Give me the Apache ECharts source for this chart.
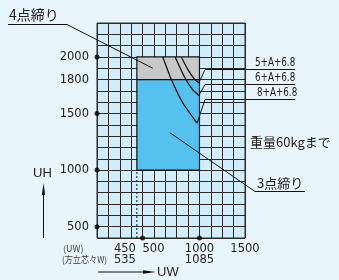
<!DOCTYPE html>
<html>
<head>
<meta charset="utf-8">
<script src="https://cdn.jsdelivr.net/npm/echarts@6/dist/echarts.min.js"></script>
<style>
  html, body { margin: 0; padding: 0; background: #e9f5fd; }
  #main { width: 339px; height: 280px; }
</style>
</head>
<body>
<div id="main"></div>
<script>
// size chart: UW x UH, with glass limits

var xMin = 100, xMax = 1400, yMin = 400, yMax = 2300;

var yTickValues = [500, 1000, 1500, 1800, 2000];
var yDotValues = [500, 1000, 1500, 2000];
var xDotValues = [500, 1000];

var xLabelValues = [450, 500, 1000, 1400];
var xLabelTop = ['450', '500', '1000', '1500'];
var xLabelBottom = ['535', '', '1085', ''];

// regions [x0, x1, y0, y1]
var box3 = [450, 1000, 1000, 1800];   // 3点締り
var box4 = [450, 1000, 1800, 2000];   // 4点締り

// glass limit curves
var curveNames = ['5+A+6.8', '6+A+6.8', '8+A+6.8'];
var curve5 = [[840, 2000], [901, 1884], [960, 1800], [995, 1772]];
var curve6 = [[786, 2000], [870, 1820], [940, 1710], [995, 1660]];
var curve8 = [[678, 2000], [755, 1796], [854, 1593], [960, 1442], [980, 1416]];

var dashed450 = [[450, 400], [450, 1000]];

var lineColor = '#2a2a2a';
var txt = '#222';
var jp = '"Noto Sans CJK JP", sans-serif';

var chart = echarts.init(document.getElementById('main'));

function curveSeries(name, data) {
  return {
    name: name,
    type: 'line',
    data: data,
    smooth: 0.2,
    symbol: 'none',
    z: 5,
    lineStyle: { color: '#111', width: 1.3 }
  };
}

var option = {
  animation: false,
  backgroundColor: '#e9f5fd',
  grid: {
    left: 97, top: 23, width: 148, height: 215,
    show: true,
    backgroundColor: '#d3ecfa',
    borderColor: lineColor,
    borderWidth: 1
  },
  xAxis: {
    type: 'value',
    min: xMin, max: xMax, interval: 100,
    axisLine: { show: false },
    axisTick: { show: false },
    axisLabel: { show: false },
    splitLine: { show: true, lineStyle: { color: lineColor, width: 1 } }
  },
  yAxis: {
    type: 'value',
    min: yMin, max: yMax, interval: 100,
    axisLine: { show: false },
    axisTick: { show: false },
    axisLabel: {
      margin: 8,
      color: txt,
      fontSize: 11.5,
      fontFamily: '"DejaVu Sans", sans-serif',
      formatter: function (v) {
        return yTickValues.indexOf(v) >= 0 ? String(v) : '';
      }
    },
    splitLine: { show: true, lineStyle: { color: lineColor, width: 1 } }
  },
  series: [
    {
      type: 'line',
      data: [],
      markArea: {
        silent: true,
        data: [
          [{ coord: [box4[0], box4[2]], itemStyle: { color: '#c8c8c8', borderColor: '#111', borderWidth: 1.2 } },
           { coord: [box4[1], box4[3]] }],
          [{ coord: [box3[0], box3[2]], itemStyle: { color: '#55c1ef', borderColor: '#111', borderWidth: 1.2 } },
           { coord: [box3[1], box3[3]] }]
        ]
      }
    },
    {
      type: 'line',
      data: dashed450,
      symbol: 'none',
      z: 4,
      lineStyle: { color: '#111', width: 1, type: [2, 2] }
    },
    curveSeries(curveNames[0], curve5),
    curveSeries(curveNames[1], curve6),
    curveSeries(curveNames[2], curve8),
    {
      type: 'scatter',
      symbolSize: 5,
      clip: false,
      z: 6,
      itemStyle: { color: '#000' },
      data: yDotValues.map(function (v) { return [xMin, v]; })
        .concat(xDotValues.map(function (v) { return [v, yMin]; }))
    }
  ]
};

chart.setOption(option);

function px(p) { return chart.convertToPixel({ gridIndex: 0 }, p); }

function text(str, x, y, opts) {
  opts = opts || {};
  return {
    type: 'text', z: 10,
    x: x, y: y,
    scaleX: opts.scaleX || 1,
    style: {
      text: str, x: 0, y: 0,
      fill: opts.color || txt,
      font: (opts.size || 12) + 'px ' + (opts.family || jp),
      textAlign: opts.align || 'left',
      textVerticalAlign: 'middle'
    }
  };
}

function line(points, w) {
  return {
    type: 'polyline', z: 10,
    shape: { points: points },
    style: { stroke: '#111', lineWidth: w || 1, fill: null }
  };
}

var g = [];

// x axis labels
var bottomY = px([xMin, yMin])[1];
xLabelValues.forEach(function (v, i) {
  var x = px([v, yMin])[0];
  var align = 'center';
  if (i === 0) { align = 'right'; x -= 1; }
  if (i === 1) { align = 'left'; }
  g.push(text(xLabelTop[i], x, bottomY + 11, { size: 11.5, family: '"DejaVu Sans", sans-serif', align: align }));
  if (xLabelBottom[i]) {
    g.push(text(xLabelBottom[i], x, bottomY + 22, { size: 11.5, family: '"DejaVu Sans", sans-serif', align: align }));
  }
});
g.push(text('(UW)', 63, bottomY + 11, { size: 9, color: '#444' }));
g.push(text('(方立芯々W)', 62, bottomY + 22, { size: 9, color: '#444', scaleX: 0.9 }));

// axis arrows
g.push(text('UH', 33, 173, { size: 13, family: '"Liberation Sans", sans-serif' }));
g.push(line([[43.5, bottomY], [43.5, 190]]));
g.push({ type: 'polygon', z: 10, shape: { points: [[43.5, 183], [41.8, 195], [45.2, 195]] }, style: { fill: '#111' } });
g.push(text('UW', 157, 272, { size: 13, family: '"Liberation Sans", sans-serif' }));
g.push(line([[98, 272], [148, 272]]));
g.push({ type: 'polygon', z: 10, shape: { points: [[156, 272], [143, 270.3], [143, 273.7]] }, style: { fill: '#111' } });

// 4点締り
var p4 = px([590, 1900]);
g.push(text('4点締り', 9, 15, { size: 14 }));
g.push(line([[8, 24.5], [67, 24.5], p4]));

// 3点締り
var p3 = px([740, 1330]);
g.push(text('3点締り', 257, 183, { size: 13 }));
g.push(line([p3, [255, 191.5], [305, 191.5]]));

g.push(text('重量60kgまで', 250, 142, { size: 13 }));

// glass curve labels
var curves = [curve5, curve6, curve8];
var underY = [69.5, 84.5, 99.5];
var labelX = [255, 255, 257];
curves.forEach(function (c, i) {
  var end = px(c[c.length - 1]);
  g.push(line([end, [205, underY[i]], [295, underY[i]]]));
  g.push(text(curveNames[i], labelX[i], underY[i] - 6.5,
    { size: 13, family: '"DejaVu Sans Condensed", "DejaVu Sans", sans-serif', scaleX: 0.75 }));
});

chart.setOption({ graphic: g });
</script>
</body>
</html>
